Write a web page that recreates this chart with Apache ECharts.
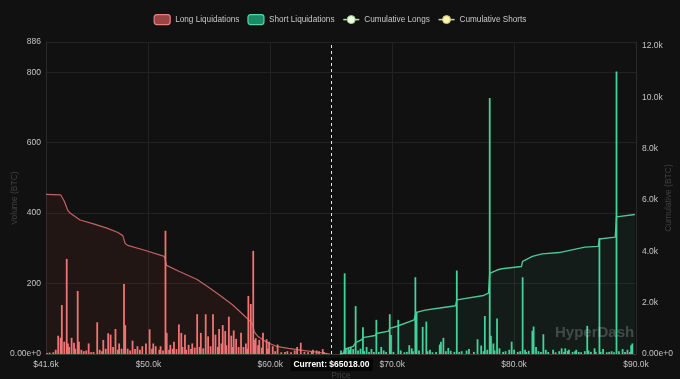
<!DOCTYPE html>
<html><head><meta charset="utf-8">
<script src="https://cdn.jsdelivr.net/npm/echarts@6/dist/echarts.min.js"></script>
<style>html,body{margin:0;padding:0;background:#111111;}#c{width:680px;height:379px;}</style>
</head><body><div id="c"></div>
<script>
const currentPrice = 65018;
const priceMin = 41600, priceMax = 90000;
const volumeMax = 886;
const cumulativeMax = 12150;
const seriesNames = ['Long Liquidations', 'Short Liquidations', 'Cumulative Longs', 'Cumulative Shorts'];

const longLiquidations = [
[41700,3],[41900,4],[42200,5],[42400,12],[42600,52],[42800,46],[42900,139],[43100,35],[43300,270],[43400,30],[43500,20],[43700,46],[43900,32],[44000,15],[44200,179],[44300,35],[44500,12],[44700,8],[44900,10],[45100,30],[45300,5],[45500,6],[45800,90],[46000,12],[46200,8],[46300,40],[46500,15],[46700,59],[46900,55],[47100,20],[47300,71],[47500,12],[47600,30],[47800,15],[48000,199],[48100,82],[48300,15],[48500,10],[48700,38],[48900,14],[49100,22],[49300,12],[49500,22],[49800,30],[50100,70],[50300,15],[50400,30],[50600,22],[50900,12],[51000,22],[51200,10],[51400,350],[51500,60],[51700,12],[51800,26],[52000,15],[52100,35],[52300,14],[52500,84],[52700,60],[52800,20],[53000,55],[53100,12],[53300,26],[53500,14],[53600,30],[53800,18],[54000,113],[54200,20],[54300,60],[54500,16],[54700,113],[54900,50],[55100,22],[55300,113],[55500,55],[55700,20],[55800,71],[56000,30],[56100,82],[56300,65],[56400,25],[56600,106],[56800,52],[56900,20],[57000,67],[57200,43],[57400,20],[57600,60],[57800,20],[58000,30],[58100,15],[58200,165],[58400,142],[58600,293],[58700,40],[58800,45],[59000,25],[59100,40],[59300,18],[59400,60],[59700,42],[59800,15],[59900,35],[60200,22],[60400,8],[60600,27],[60900,5],[61200,6],[61400,8],[61700,5],[62000,10],[62200,20],[62500,32],[62800,6],[63100,5],[63400,8],[63500,12],[63800,10],[64000,8],[64300,14],[64400,6],[64600,3]
];

const shortLiquidations = [
[65800,10],[66100,229],[66200,15],[66400,18],[66500,12],[66600,20],[66800,14],[67000,136],[67200,10],[67400,15],[67600,76],[67700,8],[67900,20],[68100,6],[68300,14],[68500,6],[68700,97],[68900,6],[69100,20],[69300,10],[69500,6],[69800,113],[69900,54],[70100,6],[70500,97],[70700,10],[71000,5],[71200,6],[71400,25],[71600,16],[71700,8],[71900,218],[72000,120],[72200,10],[72500,77],[72800,92],[72900,8],[73100,12],[73300,5],[73600,6],[73900,27],[74000,35],[74200,46],[74400,8],[74600,17],[74800,9],[75100,6],[75300,237],[75500,6],[75700,8],[76100,10],[76300,14],[76700,6],[77000,42],[77300,24],[77500,8],[77600,108],[77800,12],[78000,727],[78100,52],[78300,30],[78400,10],[78600,101],[78800,16],[79100,6],[79300,8],[79600,12],[79800,35],[80000,12],[80300,6],[80500,8],[80700,218],[80900,12],[81000,6],[81200,9],[81500,66],[81600,78],[81800,20],[82000,8],[82200,6],[82400,56],[82600,12],[82800,6],[83200,12],[83400,5],[83700,8],[83900,16],[84100,6],[84200,16],[84400,9],[84500,12],[84800,6],[85000,8],[85100,12],[85300,6],[85500,5],[85800,8],[86000,80],[86100,10],[86300,6],[86600,16],[86700,6],[87000,329],[87100,6],[87300,14],[87600,5],[87800,6],[88000,8],[88200,5],[88400,802],[88600,8],[88900,14],[89100,6],[89300,12],[89500,6],[89600,25],[89700,30]
];

const cumulativeLongs = [
[41600,6220],[42800,6200],[43100,5950],[43400,5580],[43600,5480],[44400,5220],[45500,5070],[46600,4900],[47500,4730],[47900,4610],[48100,4300],[48300,4230],[49700,4040],[51300,3800],[51500,3450],[52500,3220],[54000,2900],[55000,2580],[55800,2310],[56900,1920],[58000,1430],[58500,1210],[58700,850],[59000,680],[59700,460],[60500,300],[61500,220],[62500,150],[63500,90],[64500,30],[64900,0]
];

const cumulativeShorts = [
[65700,0],[66000,30],[66100,190],[66800,300],[66900,330],[67000,440],[67500,560],[67600,640],[68600,720],[68700,800],[69700,890],[69800,1000],[70400,1080],[70500,1150],[71800,1330],[71900,1520],[72000,1620],[72700,1710],[73900,1790],[75200,1880],[75300,2110],[77500,2280],[77900,2370],[78000,3140],[78600,3270],[79000,3320],[80600,3410],[80700,3610],[81500,3800],[82300,3900],[83700,3950],[85800,4160],[86900,4190],[87000,4480],[88300,4550],[88400,5340],[89900,5430]
];

const chart = echarts.init(document.getElementById('c'), null, {renderer: 'canvas'});
const FONT = 'Liberation Sans';
const labelColor = '#c4c4c4';
const nameColor = '#404040';

chart.setOption({
  backgroundColor: '#111111',
  animation: false,
  textStyle: {fontFamily: FONT},
  legend: {
    top: 9, left: 'center',
    itemWidth: 16, itemHeight: 10, itemGap: 8,
    textStyle: {color: '#c8c8c8', fontSize: 8.2, fontFamily: FONT},
    data: [
      {name: seriesNames[0], itemStyle: {color: '#9c4444', borderColor: '#e98080', borderWidth: 1.2}},
      {name: seriesNames[1], itemStyle: {color: '#1c8a69', borderColor: '#52d6a2', borderWidth: 1.2}},
      {name: seriesNames[2], itemStyle: {color: '#f4ffe6', borderColor: '#9ad08a', borderWidth: 1}, lineStyle: {color: '#b8e0a8', width: 1.5}},
      {name: seriesNames[3], itemStyle: {color: '#fff3b0', borderColor: '#c8c070', borderWidth: 1}, lineStyle: {color: '#c0dca0', width: 1.5}}
    ]
  },
  grid: {left: 46, right: 44, top: 42, bottom: 25, containLabel: false, outerBoundsMode: 'none'},
  xAxis: {
    type: 'value', min: priceMin, max: priceMax,
    name: 'Price', nameLocation: 'middle', nameGap: 17, nameMoveOverlap: false,
    nameTextStyle: {color: nameColor, fontSize: 8.5},
    axisLine: {show: true, lineStyle: {color: '#3a3a3a'}},
    axisTick: {show: false},
    splitLine: {show: true, lineStyle: {color: '#222222', width: 1}},
    axisLabel: {color: labelColor, fontSize: 8.5, margin: 6,
      formatter: v => '$' + (v / 1000).toFixed(1) + 'k'}
  },
  yAxis: [
    {
      type: 'value', min: 0, max: volumeMax, interval: 200,
      name: 'Volume (BTC)', nameLocation: 'middle', nameGap: 27, nameMoveOverlap: false,
      nameTextStyle: {color: nameColor, fontSize: 8.5},
      axisLine: {show: true, lineStyle: {color: '#2a2a2a'}},
      axisTick: {show: false},
      splitLine: {show: true, lineStyle: {color: '#222222', width: 1}},
      axisLabel: {color: labelColor, fontSize: 8.5, margin: 5,
        formatter: v => v === 0 ? '0.00e+0' : String(v)}
    },
    {
      type: 'value', min: 0, max: cumulativeMax, interval: 2000,
      name: 'Cumulative (BTC)', nameLocation: 'middle', nameGap: 28, nameMoveOverlap: false,
      nameTextStyle: {color: nameColor, fontSize: 8.5},
      axisLine: {show: true, lineStyle: {color: '#2a2a2a'}},
      axisTick: {show: false},
      splitLine: {show: false},
      axisLabel: {color: labelColor, fontSize: 8.5, margin: 6, showMaxLabel: false,
        formatter: v => v === 0 ? '0.00e+0' : (v / 1000).toFixed(1) + 'k'}
    }
  ],
  series: [
    {
      name: seriesNames[2], type: 'line', yAxisIndex: 1, data: cumulativeLongs,
      showSymbol: false, symbol: 'circle', symbolSize: 6,
      itemStyle: {color: '#f4ffe6'},
      lineStyle: {color: '#c06262', width: 1.2},
      areaStyle: {color: 'rgba(239,83,80,0.11)'},
      z: 1
    },
    {
      name: seriesNames[3], type: 'line', yAxisIndex: 1, data: cumulativeShorts,
      showSymbol: false, symbol: 'circle', symbolSize: 6,
      itemStyle: {color: '#fff3b0'},
      lineStyle: {color: '#4cc895', width: 1.4},
      areaStyle: {color: 'rgba(63,207,150,0.09)'},
      z: 1
    },
    {
      name: seriesNames[0], type: 'bar', data: longLiquidations,
      barWidth: 1.8, barGap: '-100%',
      itemStyle: {color: '#f07474'},
      z: 3,
      markLine: {
        silent: true, symbol: 'none',
        lineStyle: {color: '#e6e6e6', type: [3, 3], width: 1},
        label: {
          show: true, position: 'start', distance: 4,
          formatter: 'Current: $' + currentPrice.toFixed(2),
          color: '#ffffff', fontSize: 8.5, fontWeight: 'bold', fontFamily: FONT,
          backgroundColor: '#050505', padding: [2, 3]
        },
        data: [{xAxis: currentPrice}]
      }
    },
    {
      name: seriesNames[1], type: 'bar', data: shortLiquidations,
      barWidth: 1.8, barGap: '-100%',
      itemStyle: {color: '#41d39a'},
      z: 3
    }
  ],
  graphic: [{
    type: 'text', left: 555, top: 325, z: 100, silent: true,
    style: {text: 'HyperDash', fill: 'rgba(255,255,255,0.2)', fontSize: 15, fontWeight: 'bold', fontFamily: FONT}
  }]
});
</script>
</body></html>
